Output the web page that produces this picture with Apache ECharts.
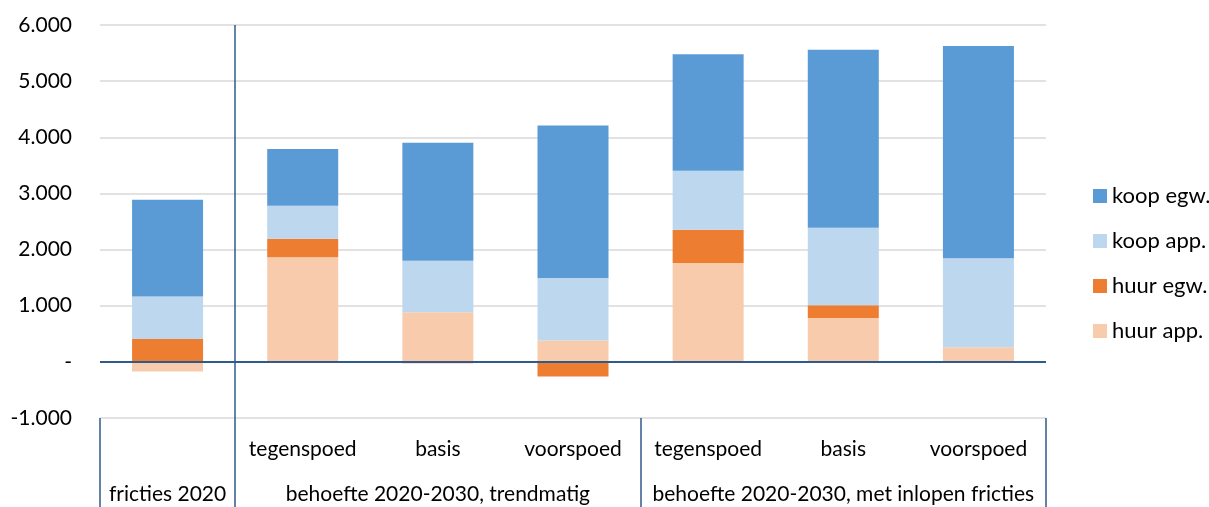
<!DOCTYPE html>
<html>
<head>
<meta charset="utf-8">
<script src="https://cdn.jsdelivr.net/npm/echarts@6/dist/echarts.min.js"></script>
<style>html,body{margin:0;padding:0;background:#fff}#c{width:1209px;height:507px}</style>
</head>
<body>
<div id="c"></div>
<script>
// Data
const scenarios = ['', 'tegenspoed', 'basis', 'voorspoed', 'tegenspoed', 'basis', 'voorspoed'];
const groups = ['fricties 2020', '', 'behoefte 2020-2030, trendmatig', '', '', 'behoefte 2020-2030, met inlopen fricties', ''];
const huurApp = [-173, 1863, 884, 380, 1762, 783, 262];
const huurEgw = [409, 331, -25, -261, 592, 225, 0];
const koopApp = [753, 587, 919, 1115, 1050, 1382, 1583];
const koopEgw = [1726, 1009, 2099, 2717, 2076, 3167, 3783];
const yTicks = [-1000, 0, 1000, 2000, 3000, 4000, 5000, 6000];

const categories = scenarios.map((s, i) => s + '\n' + groups[i]);
const FONT = 'Lato';

function fmt(v) {
  if (v === 0) return '-';
  const s = Math.abs(v).toString().replace(/\B(?=(\d{3})+(?!\d))/g, '.');
  return (v < 0 ? '-' : '') + s;
}

const chart = echarts.init(document.getElementById('c'), null, {renderer: 'canvas'});
const mk = (name, data, color, extra) => Object.assign({
  name, type: 'bar', stack: 'total', data, barWidth: 71,
  itemStyle: {color}, emphasis: {disabled: true}
}, extra || {});

chart.setOption({
  animation: false,
  textStyle: {fontFamily: FONT},
  grid: {left: 100, right: 163, top: 25, bottom: 89, containLabel: false, outerBoundsMode: 'none'},
  legend: {
    orient: 'vertical', left: 1088, top: 180,
    itemWidth: 14, itemHeight: 14, itemGap: 23, itemTextGap: 6,
    icon: 'rect',
    data: ['koop egw.', 'koop app.', 'huur egw.', 'huur app.'],
    textStyle: {fontFamily: FONT, fontSize: 22, color: '#000', lineHeight: 22}
  },
  xAxis: {
    type: 'category', data: categories, position: 'bottom',
    axisLine: {show: false, onZero: false},
    axisTick: {
      show: true, length: 89, inside: false,
      interval: (i) => i === 0 || i === 1 || i === 4,
      lineStyle: {color: '#2F5A8A', width: 1.5}
    },
    splitLine: {
      show: true,
      interval: (i) => i <= 1,
      lineStyle: {color: ['rgba(0,0,0,0)', '#2F5A8A', 'rgba(0,0,0,0)'], width: 1.5}
    },
    axisLabel: {
      interval: 0, margin: 9, verticalAlign: 'top',
      fontFamily: FONT, fontSize: 21, lineHeight: 45, color: '#000'
    }
  },
  yAxis: {
    type: 'value', min: -1000, max: 6000, interval: 1000,
    axisLine: {show: false}, axisTick: {show: false},
    splitLine: {lineStyle: {color: '#D9D9D9', width: 1.5}},
    axisLabel: {
      margin: 28, fontFamily: FONT, fontSize: 21, color: '#000',
      formatter: (v) => yTicks.includes(v) ? fmt(v) : ''
    }
  },
  series: [
    mk('huur app.', huurApp, '#F8CBAD', {
      markLine: {
        silent: true, symbol: 'none', label: {show: false},
        lineStyle: {color: '#2F5A8A', width: 2, type: 'solid'},
        data: [{yAxis: 0}]
      }
    }),
    mk('huur egw.', huurEgw, '#ED7D31'),
    mk('koop app.', koopApp, '#BDD7EE'),
    mk('koop egw.', koopEgw, '#5B9BD5')
  ]
});
</script>
</body>
</html>
